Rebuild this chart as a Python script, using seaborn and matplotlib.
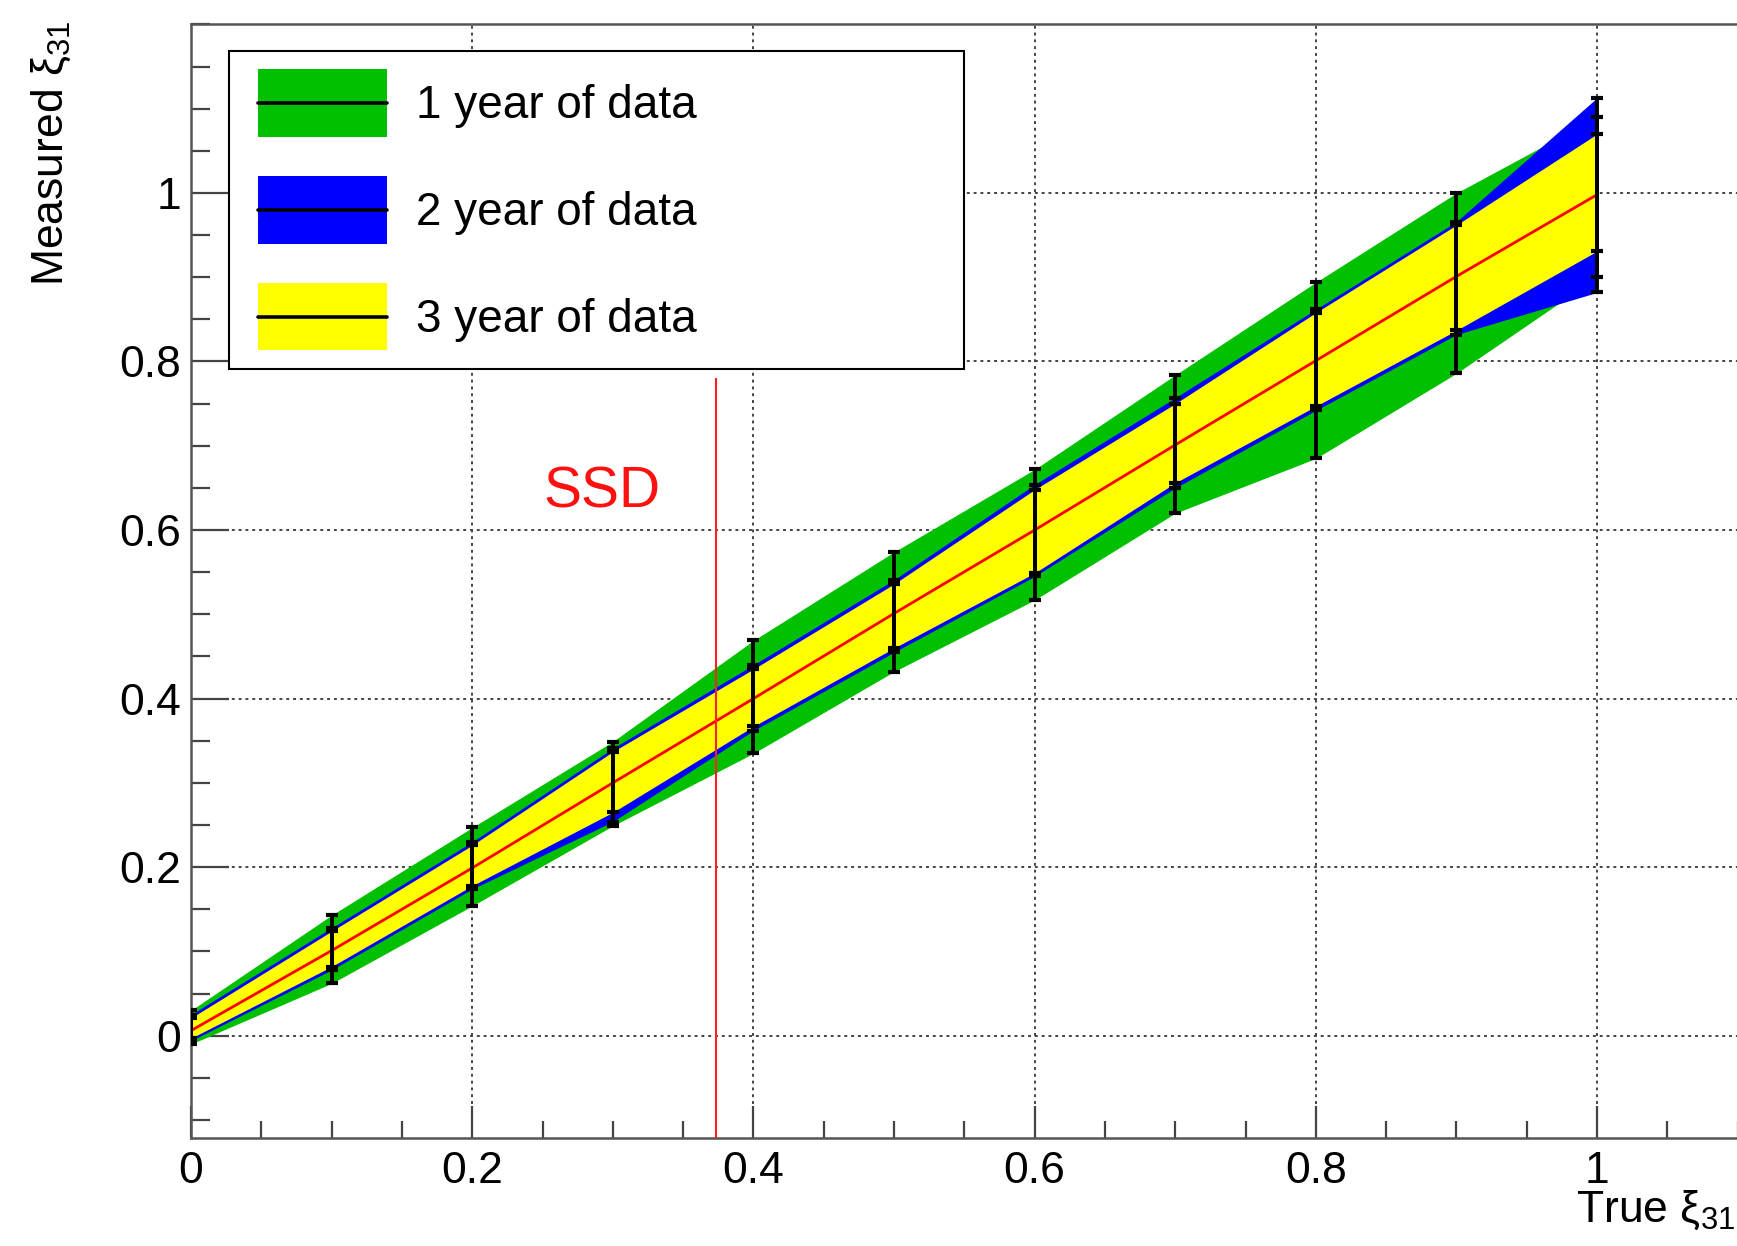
import numpy as np
import pandas as pd
import matplotlib
matplotlib.use("Agg")
import matplotlib.pyplot as plt
from matplotlib.patches import Rectangle
from matplotlib.lines import Line2D
from matplotlib.ticker import MultipleLocator, FixedLocator, FuncFormatter
import seaborn as sns

# ---------------- data ----------------
true_xi = [0.0, 0.1, 0.2, 0.3, 0.4, 0.5, 0.6, 0.7, 0.8, 0.9, 1.0]
measured_mean = [0.006, 0.101, 0.199, 0.300, 0.400, 0.501, 0.600, 0.701, 0.801, 0.901, 0.998]

lo_1yr = [-0.010, 0.062, 0.154, 0.249, 0.335, 0.432, 0.517, 0.620, 0.685, 0.786, 0.900]
hi_1yr = [0.030, 0.143, 0.247, 0.349, 0.469, 0.574, 0.672, 0.784, 0.894, 1.000, 1.090]

lo_2yr = [-0.006, 0.078, 0.174, 0.254, 0.362, 0.455, 0.545, 0.650, 0.742, 0.832, 0.882]
hi_2yr = [0.025, 0.128, 0.230, 0.341, 0.440, 0.541, 0.654, 0.757, 0.862, 0.966, 1.113]

lo_3yr = [-0.003, 0.082, 0.178, 0.265, 0.367, 0.460, 0.549, 0.656, 0.747, 0.837, 0.931]
hi_3yr = [0.021, 0.124, 0.226, 0.337, 0.435, 0.536, 0.648, 0.750, 0.858, 0.962, 1.070]

series_labels = ["1 year of data", "2 year of data", "3 year of data"]
series_colors = ["#00c000", "#0000ff", "#ffff00"]

x_major_ticks = [0.0, 0.2, 0.4, 0.6, 0.8, 1.0]
y_major_ticks = [0.0, 0.2, 0.4, 0.6, 0.8, 1.0]

ssd_x = 0.373
ssd_top = 0.78
ssd_label = "SSD"
ssd_label_x = 0.292
ssd_label_y = 0.644

x_label = "True ξ$_{31}$"
y_label = "Measured ξ$_{31}$"

# ---------------- style ----------------
sns.set_theme(style="white")
plt.rcParams["font.family"] = ["Liberation Sans", "DejaVu Sans"]
plt.rcParams["mathtext.default"] = "regular"
plt.rcParams["text.color"] = "black"
plt.rcParams["axes.labelcolor"] = "black"

fig = plt.figure(figsize=(17.37, 12.46), dpi=100)
ax = fig.add_axes([0.1100, 0.0870, 0.8904, 0.8934])
ax.set_xlim(0, 1.1)
ax.set_ylim(-0.121, 1.2)

# bands
bands = [(lo_1yr, hi_1yr), (lo_2yr, hi_2yr), (lo_3yr, hi_3yr)]
for i, ((lo, hi), c) in enumerate(zip(bands, series_colors)):
    ax.fill_between(true_xi, lo, hi, color=c, lw=0, zorder=1 + i)

# central line
df = pd.DataFrame({"true": true_xi, "measured": measured_mean})
sns.lineplot(data=df, x="true", y="measured", color="red", lw=2.0, ax=ax,
             zorder=5, legend=False)

# error bars
mean = np.array(measured_mean)
for lo, hi in bands:
    lo = np.array(lo)
    hi = np.array(hi)
    ax.errorbar(true_xi, mean, yerr=[mean - lo, hi - mean], fmt="none",
                ecolor="black", elinewidth=2.8, capsize=4.5, capthick=3,
                zorder=6)

# SSD line and label
ax.vlines(ssd_x, -0.121, ssd_top, color="#ff2020", lw=1.5, zorder=7)
ax.text(ssd_label_x, ssd_label_y, ssd_label, color="#ff1010", fontsize=41,
        ha="center", va="center", zorder=8)

# grid / ticks
ax.set_axisbelow(True)
ax.xaxis.set_major_locator(FixedLocator(x_major_ticks))
ax.xaxis.set_minor_locator(MultipleLocator(0.05))
ax.yaxis.set_major_locator(FixedLocator(y_major_ticks))
ax.yaxis.set_minor_locator(MultipleLocator(0.05))
ax.grid(True, which="major", color="#444444", linestyle=(0, (1.5, 2.0)), lw=1.4)


def fmt(v, p):
    s = f"{round(v, 6):g}"
    return "0" if s in ("-0", "0") else s


ax.xaxis.set_major_formatter(FuncFormatter(fmt))
ax.yaxis.set_major_formatter(FuncFormatter(fmt))

ax.tick_params(axis="both", which="both", direction="in", color="#444444",
               width=1.6, labelsize=32, labelcolor="black",
               bottom=True, left=True, top=False, right=False)
ax.tick_params(axis="x", which="major", length=23, pad=10)
ax.tick_params(axis="x", which="minor", length=12)
ax.tick_params(axis="y", which="major", length=27, pad=7)
ax.tick_params(axis="y", which="minor", length=14)

for side in ["left", "bottom", "top"]:
    ax.spines[side].set_color("#555555")
    ax.spines[side].set_linewidth(1.8)
ax.spines["right"].set_visible(False)
ax.set_xlabel("")
ax.set_ylabel("")


# legend: filled box with a black line through it (ROOT "lf" style)
class LegendKey:
    def __init__(self, color):
        self.color = color


class LegendKeyHandler:
    def legend_artist(self, legend, orig_handle, fontsize, handlebox):
        x0, y0 = -handlebox.xdescent, -handlebox.ydescent
        w, h = handlebox.width, handlebox.height
        off = 0.075 * w
        rect = Rectangle((x0 + off, y0), w - off, h, facecolor=orig_handle.color,
                         edgecolor="none", transform=handlebox.get_transform())
        line = Line2D([x0 + off, x0 + w], [y0 + h / 2, y0 + h / 2], color="black",
                      lw=2.6, transform=handlebox.get_transform())
        handlebox.add_artist(rect)
        handlebox.add_artist(line)
        return rect


handles = [LegendKey(c) for c in series_colors]
leg = ax.legend(handles, series_labels, loc="upper left",
                bbox_to_anchor=(0.0246, 0.689, 0.4752, 0.287), mode="expand",
                borderaxespad=0, fontsize=33, frameon=True, fancybox=False,
                edgecolor="black", framealpha=1, handlelength=3.05,
                handleheight=1.88, handletextpad=0.62, labelspacing=0.865,
                borderpad=0.40, handler_map={LegendKey: LegendKeyHandler()})
leg.get_frame().set_linewidth(1.5)
leg.set_zorder(20)
for t in leg.get_texts():
    t.set_color("black")

# axis titles
fig.text(0.0294, 0.984, y_label, rotation=90, ha="center", va="top", fontsize=32,
         color="black")
fig.text(0.999, 1 - 1222 / 1246, x_label, ha="right", va="baseline", fontsize=32,
         color="black")

fig.savefig("out.png", dpi=100)
